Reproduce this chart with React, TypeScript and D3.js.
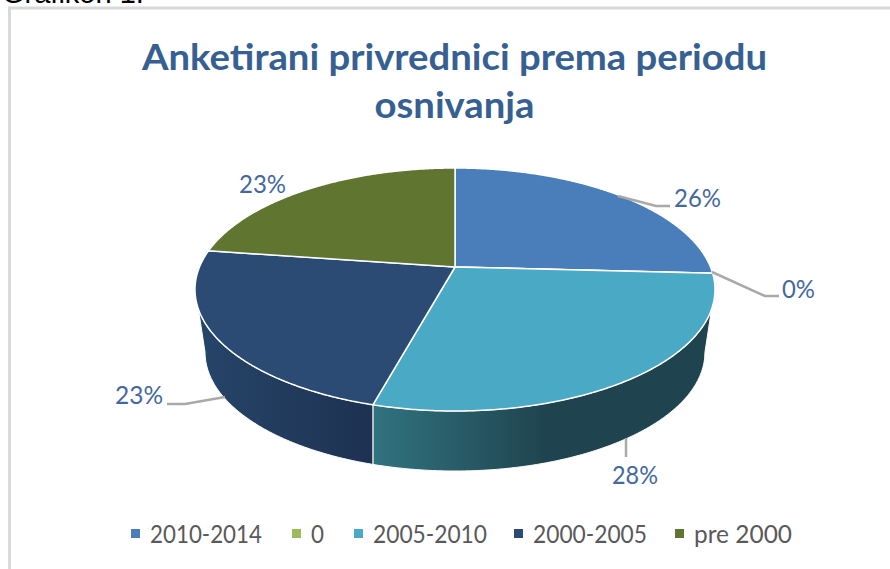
import React from 'react';
import * as d3 from 'd3';

const categories = ['2010-2014', '0', '2005-2010', '2000-2005', 'pre 2000'];
const shares = [25.9, 0, 28.1, 23.4, 22.6];
const colors = ['#4a7ebb', '#9bbb59', '#4aaac5', '#2b4b75', '#5f7530'];
const titleLines = ['Anketirani privrednici prema periodu', 'osnivanja'];

const width = 890;
const height = 569;

// top face is an ellipse, apex sits above its centre because of the perspective
const cx = 455, cy = 289.5, rx = 260, ry = 121.5;
const apexY = 267;
const rayRy = 112;
// bottom rim of the pie
const bottomCy = 352, bottomRx = 250, bottomRy = 119;
// where the side wall starts to show
const rimCut = 0.16;

const font = 'Lato, "Open Sans", sans-serif';
const labelColor = '#44699f';

// point on the rim for a pie angle
const rim = (angle: number): [number, number] => {
  const dx = Math.sin(angle) * rx;
  const dy = -Math.cos(angle) * rayRy;
  const oy = apexY - cy;
  const a = (dx * dx) / (rx * rx) + (dy * dy) / (ry * ry);
  const b = (2 * oy * dy) / (ry * ry);
  const c = (oy * oy) / (ry * ry) - 1;
  const t = (-b + Math.sqrt(b * b - 4 * a * c)) / (2 * a);
  return [cx + t * dx, apexY + t * dy];
};

const line = d3.line();
const arcs = d3.pie<number>().sort(null)(shares);

const sample = (start: number, end: number) =>
  d3.range(241).map((i) => start + ((end - start) * i) / 240);

const slicePath = (start: number, end: number) =>
  line([[cx, apexY], ...sample(start, end).map(rim)]) + 'Z';

const sidePath = (start: number, end: number) => {
  const top = sample(start, end)
    .map(rim)
    .filter(([, y]) => y >= cy + ry * Math.sin(rimCut));
  const bottom = top
    .map(([x]): [number, number] => {
      const u = Math.max(-1, Math.min(1, (x - cx) / bottomRx));
      return [cx + u * bottomRx, bottomCy + bottomRy * Math.sqrt(1 - u * u)];
    })
    .reverse();
  return line([...top, ...bottom]) + 'Z';
};

const legendX = d3
  .scaleOrdinal<string, number>()
  .domain(categories)
  .range([131, 292, 354, 514, 675]);
const legendWidths = [112, 13, 114, 114, 98];

const dataLabels = [
  { x: 674, y: 207, w: 47, points: [[618, 196], [656, 206], [670, 206]] },
  { x: 782, y: 298, w: 33, points: [[712, 272], [765, 296], [779, 296]] },
  { x: 612, y: 484, w: 46, points: [[626, 438], [626, 457]] },
  { x: 115, y: 404, w: 48, points: [[225, 397], [185, 404], [167, 404]] },
  { x: 239, y: 193, w: 47, points: [] },
];

export default function App() {
  return (
    <svg
      width={width}
      height={height}
      viewBox={`0 0 ${width} ${height}`}
      style={{ position: 'absolute', left: 0, top: 0, background: '#fff' }}
    >
      <defs>
        <linearGradient id="side2" gradientUnits="userSpaceOnUse" x1={374} x2={545} y1={0} y2={0}>
          <stop offset="0" stopColor="#30737f" />
          <stop offset="1" stopColor="#1f444f" />
        </linearGradient>
        <linearGradient id="side3" gradientUnits="userSpaceOnUse" x1={200} x2={374} y1={0} y2={0}>
          <stop offset="0" stopColor="#264569" />
          <stop offset="1" stopColor="#1d3151" />
        </linearGradient>
      </defs>

      <text x={2} y={3} fontFamily='"Liberation Sans", Arial, sans-serif' fontSize={29} fill="#000">
        Grafikon 1:
      </text>
      <path d={`M${width},8H9.5V${height}`} fill="none" stroke="#d9d9d9" strokeWidth={3} />

      {titleLines.map((t, i) => (
        <text
          key={t}
          x={454.5}
          y={70 + i * 48}
          textAnchor="middle"
          fontFamily={font}
          fontWeight={700}
          fontSize={37}
          fill="#376092"
          textLength={i === 0 ? 625 : 160}
          lengthAdjust="spacingAndGlyphs"
        >
          {t}
        </text>
      ))}

      {/* side walls, only the two front slices show */}
      {[2, 3].map((i) => (
        <path
          key={i}
          d={sidePath(arcs[i].startAngle, arcs[i].endAngle)}
          fill={`url(#side${i})`}
          stroke="#fff"
          strokeWidth={1}
        />
      ))}

      {arcs.map((a, i) => (
        <path
          key={categories[i]}
          d={slicePath(a.startAngle, a.endAngle)}
          fill={colors[i]}
          stroke="#fff"
          strokeWidth={1.5}
          strokeLinejoin="round"
        />
      ))}

      {dataLabels.map((l, i) => (
        <g key={i}>
          {l.points.length > 0 && (
            <path
              d={line(l.points as [number, number][]) as string}
              fill="none"
              stroke="#a9a9a9"
              strokeWidth={2.5}
            />
          )}
          <text
            x={l.x}
            y={l.y}
            fontFamily={font}
            fontSize={25}
            fill={labelColor}
            textLength={l.w}
            lengthAdjust="spacingAndGlyphs"
          >
            {d3.format('.0%')(Math.round(shares[i]) / 100)}
          </text>
        </g>
      ))}

      {categories.map((c, i) => (
        <g key={c}>
          <rect x={legendX(c)} y={529} width={9} height={9} fill={colors[i]} />
          <text
            x={(legendX(c) as number) + 19}
            y={543}
            fontFamily={font}
            fontSize={25}
            fill="#595959"
            textLength={legendWidths[i]}
            lengthAdjust="spacingAndGlyphs"
          >
            {c}
          </text>
        </g>
      ))}
    </svg>
  );
}
